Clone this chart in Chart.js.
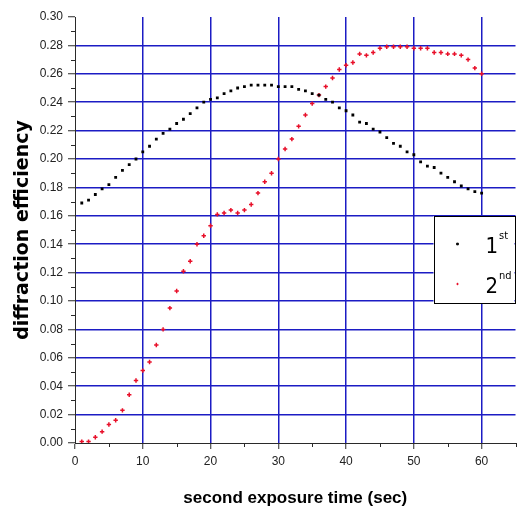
<!DOCTYPE html>
<html>
<head>
<meta charset="utf-8">
<title>diffraction efficiency vs second exposure time</title>
<script src="https://cdn.jsdelivr.net/npm/chart.js@4.4.1/dist/chart.umd.min.js"></script>
<style>
  html, body { margin: 0; padding: 0; background: #fff; }
  canvas { display: block; }
</style>
</head>
<body>
<canvas id="effChart" width="521" height="512"></canvas>
<script>
// exposure time (sec), one reading per second
const seconds = [1, 2, 3, 4, 5, 6, 7, 8, 9, 10, 11, 12, 13, 14, 15, 16, 17, 18, 19, 20,
  21, 22, 23, 24, 25, 26, 27, 28, 29, 30, 31, 32, 33, 34, 35, 36, 37, 38, 39, 40,
  41, 42, 43, 44, 45, 46, 47, 48, 49, 50, 51, 52, 53, 54, 55, 56, 57, 58, 59, 60];

// 1st order diffraction efficiency
const firstOrder = [0.169, 0.171, 0.175, 0.179, 0.182, 0.187, 0.192, 0.196, 0.200, 0.205,
  0.209, 0.214, 0.218, 0.221, 0.225, 0.228, 0.232, 0.236, 0.240, 0.242,
  0.243, 0.246, 0.248, 0.250, 0.251, 0.252, 0.252, 0.252, 0.252, 0.251,
  0.251, 0.251, 0.249, 0.248, 0.246, 0.245, 0.242, 0.240, 0.236, 0.234,
  0.231, 0.226, 0.225, 0.221, 0.219, 0.215, 0.211, 0.209, 0.205, 0.203,
  0.198, 0.195, 0.194, 0.190, 0.187, 0.184, 0.181, 0.179, 0.177, 0.176];

// 2nd order diffraction efficiency
const secondOrder = [0.001, 0.001, 0.004, 0.008, 0.013, 0.016, 0.023, 0.034, 0.044, 0.051,
  0.057, 0.069, 0.080, 0.095, 0.107, 0.121, 0.128, 0.140, 0.146, 0.153,
  0.161, 0.162, 0.164, 0.162, 0.164, 0.168, 0.176, 0.184, 0.190, 0.200,
  0.207, 0.214, 0.223, 0.231, 0.239, 0.245, 0.251, 0.257, 0.263, 0.266,
  0.268, 0.274, 0.273, 0.275, 0.278, 0.279, 0.279, 0.279, 0.279, 0.278,
  0.278, 0.278, 0.275, 0.275, 0.274, 0.274, 0.273, 0.270, 0.264, 0.260];

const seriesNames = ['1', '2'];
const seriesSup = ['st', 'nd'];

const xRange = [0, 65];
const yRange = [0, 0.30];

const gridBlue = '#1c1cc4';
const axisColor = '#2a2a2a';
const tickFont = { family: 'Liberation Sans, Arial, sans-serif', size: 12 };

function toPoints(xs, ys) {
  return xs.map((x, i) => ({ x: x, y: ys[i] }));
}

// minor ticks (Chart.js only draws one tick length)
const minorTicks = {
  id: 'minorTicks',
  afterDraw(chart) {
    const ctx = chart.ctx;
    const xs = chart.scales.x;
    const ys = chart.scales.y;
    const area = chart.chartArea;
    ctx.save();
    ctx.strokeStyle = axisColor;
    ctx.lineWidth = 1;
    ctx.beginPath();
    ys.ticks.forEach((t, i) => {
      if (i % 2 === 1) {
        const py = Math.round(ys.getPixelForValue(t.value)) + 0.5;
        ctx.moveTo(area.left - 4, py);
        ctx.lineTo(area.left, py);
      }
    });
    xs.ticks.forEach((t, i) => {
      if (i % 2 === 1) {
        const px = Math.round(xs.getPixelForValue(t.value)) + 0.5;
        ctx.moveTo(px, area.bottom);
        ctx.lineTo(px, area.bottom + 4);
      }
    });
    ctx.stroke();
    ctx.restore();
  }
};

// boxed legend inside the plot, with superscript ordinals
const boxLegend = {
  id: 'boxLegend',
  afterDraw(chart) {
    const ctx = chart.ctx;
    const area = chart.chartArea;
    const bx = area.right - 82;
    const by = area.top + 199;
    const bw = 81;
    const bh = 87;
    ctx.save();
    ctx.fillStyle = '#fff';
    ctx.fillRect(bx, by, bw, bh);
    ctx.strokeStyle = '#000';
    ctx.lineWidth = 1;
    ctx.strokeRect(Math.round(bx) + 0.5, Math.round(by) + 0.5, bw, bh);

    chart.data.datasets.forEach((ds, i) => {
      const rowY = by + 28 + i * 40;
      ctx.fillStyle = ds.pointBackgroundColor;
      ctx.strokeStyle = ds.pointBorderColor;
      ctx.lineWidth = 1;
      Chart.helpers.drawPoint(ctx, {
        pointStyle: ds.pointStyle,
        radius: 1.2,
        borderWidth: 1
      }, bx + 24, rowY);

      ctx.fillStyle = '#000';
      ctx.textBaseline = 'alphabetic';
      ctx.textAlign = 'left';
      ctx.font = '22px "Liberation Sans Narrow", "DejaVu Sans Condensed", sans-serif';
      ctx.fillText(seriesNames[i], bx + 52, rowY + 9);
      const w = ctx.measureText(seriesNames[i]).width;
      ctx.font = '11px "Liberation Sans Narrow", "DejaVu Sans Condensed", sans-serif';
      ctx.fillText(seriesSup[i], bx + 52 + w + 1, rowY - 5);
    });
    ctx.restore();
  }
};

new Chart(document.getElementById('effChart'), {
  type: 'scatter',
  data: {
    datasets: [
      {
        label: '1st',
        data: toPoints(seconds, firstOrder),
        pointStyle: 'rect',
        pointRadius: 2,
        pointBackgroundColor: '#000',
        pointBorderColor: '#000',
        pointBorderWidth: 0,
        showLine: false
      },
      {
        label: '2nd',
        data: toPoints(seconds, secondOrder),
        pointStyle: 'cross',
        pointRadius: 2.2,
        pointBackgroundColor: '#e8102a',
        pointBorderColor: '#e8102a',
        pointBorderWidth: 1.5,
        showLine: false
      }
    ]
  },
  options: {
    responsive: false,
    animation: false,
    devicePixelRatio: 1,
    layout: { padding: { top: 17, right: 4, left: 0, bottom: 0 } },
    plugins: {
      legend: { display: false },
      tooltip: { enabled: false }
    },
    scales: {
      x: {
        type: 'linear',
        min: xRange[0],
        max: xRange[1],
        afterFit(scale) { scale.height = 69; },
        border: { display: true, color: axisColor, width: 1 },
        grid: {
          color: (c) => {
            const v = c.tick ? c.tick.value : 0;
            return (v % 10 === 0 && v > 0 && v < 65) ? gridBlue : 'rgba(0,0,0,0)';
          },
          lineWidth: 1.5,
          tickLength: 6,
          tickColor: (c) => (c.index % 2 === 0 ? axisColor : 'rgba(0,0,0,0)'),
          tickWidth: 1
        },
        ticks: {
          stepSize: 5,
          autoSkip: false,
          maxRotation: 0,
          padding: 5,
          color: '#222',
          font: tickFont,
          callback: (v) => (v % 10 === 0 && v <= 60 ? String(v) : '')
        },
        title: {
          display: true,
          text: 'second exposure time (sec)',
          color: '#000',
          font: { family: 'Liberation Sans, Arial, sans-serif', size: 17, weight: 'bold' },
          padding: { top: 0, bottom: 3 }
        }
      },
      y: {
        type: 'linear',
        min: yRange[0],
        max: yRange[1],
        afterFit(scale) { scale.width = 75; },
        border: { display: true, color: axisColor, width: 1 },
        grid: {
          color: (c) => (c.index % 2 === 0 && c.index > 0 && c.index < 30 ? gridBlue : 'rgba(0,0,0,0)'),
          lineWidth: 1.5,
          tickLength: 7,
          tickColor: (c) => (c.index % 2 === 0 ? axisColor : 'rgba(0,0,0,0)'),
          tickWidth: 1
        },
        ticks: {
          stepSize: 0.01,
          autoSkip: false,
          padding: 5,
          color: '#222',
          font: tickFont,
          callback: (v, i) => (i % 2 === 0 ? v.toFixed(2) : '')
        },
        title: {
          display: true,
          text: 'diffraction efficiency',
          color: '#000',
          font: { family: 'DejaVu Sans, sans-serif', size: 19, weight: 'bold' },
          padding: { top: 12, bottom: 0 }
        }
      }
    }
  },
  plugins: [minorTicks, boxLegend]
});
</script>
</body>
</html>
